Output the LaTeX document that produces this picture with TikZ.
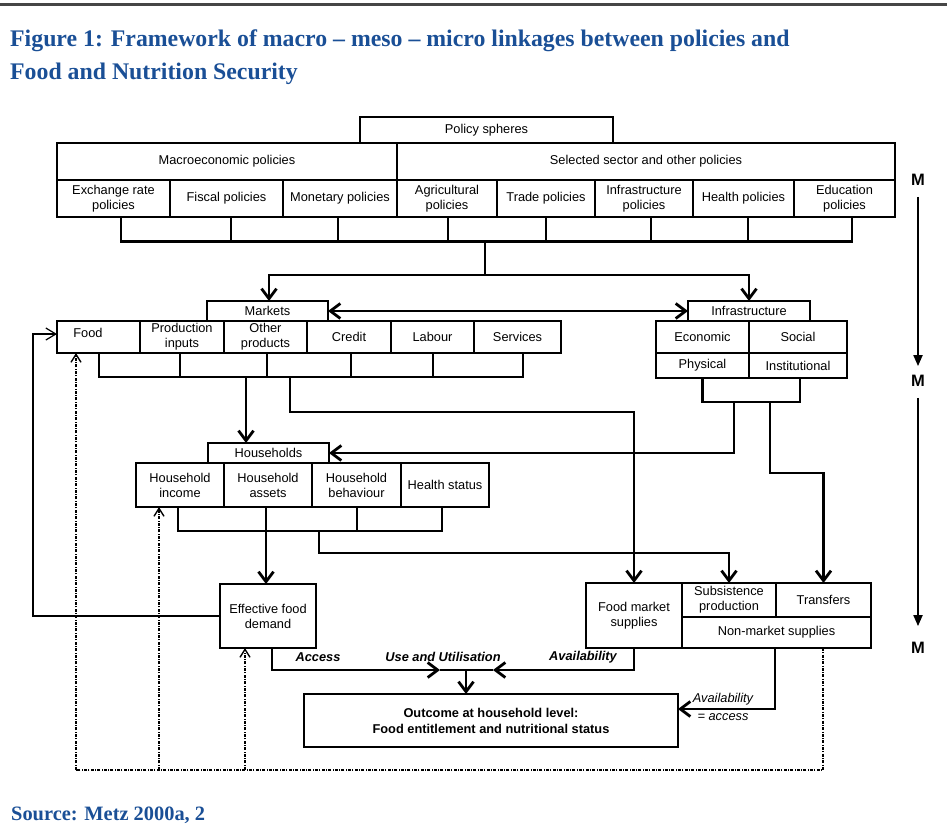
\documentclass[tikz,border=0pt]{standalone}
\usepackage{fontspec}
\setmainfont{Liberation Sans}
\newfontfamily\headfont{Liberation Serif}
\usetikzlibrary{arrows.meta}
\definecolor{headblue}{RGB}{26,79,150}
\definecolor{rulegrey}{RGB}{70,70,70}
\begin{document}
\begin{tikzpicture}[x=1pt,y=-1pt,
  cell/.style={draw,line width=1.7pt,inner sep=0pt,outer sep=0pt,align=center,
    font=\fontsize{12.8}{15}\selectfont},
  link/.style={line width=2.8pt},
  arr/.style={link,-{Straight Barb[length=10pt,width=15pt]}},
  dblarr/.style={link,{Straight Barb[length=10pt,width=15pt]}-{Straight Barb[length=10pt,width=15pt]}},
  thinarr/.style={line width=1.2pt,-{Straight Barb[length=10pt,width=12pt]}},
  dotline/.style={line width=1.4pt,dash pattern=on 3pt off 1.3pt on 1pt off 1.3pt},
  dotarr/.style={dotline,-{Straight Barb[length=8pt,width=10pt]}},
  mlab/.style={font=\fontsize{16.5}{16.5}\bfseries\selectfont,inner sep=0pt},
  marr/.style={line width=1.8pt,-{Triangle[length=11pt,width=9pt]}},
  flow/.style={font=\fontsize{12.8}{15}\selectfont\bfseries\itshape,inner sep=0pt},
  note/.style={font=\fontsize{12.8}{15}\selectfont\itshape,inner sep=0pt},
  headtext/.style={text=headblue,font=\headfont\bfseries\fontsize{23.8}{28}\selectfont,
    inner sep=0pt,anchor=base west},
]
\useasboundingbox (0,0) rectangle (947,829);

% heading and rule
\draw[rulegrey,line width=3pt] (0,5) -- (947,5);
\node[headtext] (title1) at (10,47) {Figure 1: Framework of macro – meso – micro linkages between policies and};
\node[headtext] (title2) at (10,80) {Food and Nutrition Security};
\node[headtext,font=\headfont\bfseries\fontsize{20.4}{24}\selectfont] (source) at (11,820) {Source: Metz 2000a, 2};

% policy spheres
\node[cell,minimum width=253pt,minimum height=26pt] (spheres) at (486.5,130) {Policy spheres};
\node[cell,minimum width=340pt,minimum height=37pt] (macro) at (227,161.5) {Macroeconomic policies};
\node[cell,minimum width=498pt,minimum height=37pt] (sector) at (646,161.5) {Selected sector and other policies};
\node[cell,minimum width=113pt,minimum height=37pt] (exr) at (113.5,198.5) {Exchange rate\\policies};
\node[cell,minimum width=113pt,minimum height=37pt] (fis) at (226.5,198.5) {Fiscal policies};
\node[cell,minimum width=114pt,minimum height=37pt] (mon) at (340,198.5) {Monetary policies};
\node[cell,minimum width=100pt,minimum height=37pt] (agr) at (447,198.5) {Agricultural\\policies};
\node[cell,minimum width=98pt,minimum height=37pt] (trd) at (546,198.5) {Trade policies};
\node[cell,minimum width=98pt,minimum height=37pt] (inf) at (644,198.5) {Infrastructure\\policies};
\node[cell,minimum width=101pt,minimum height=37pt] (hea) at (743.5,198.5) {Health policies};
\node[cell,minimum width=101pt,minimum height=37pt] (edu) at (844.5,198.5) {Education\\policies};

% markets
\node[cell,minimum width=121pt,minimum height=20pt] (markets) at (267.5,311) {Markets};
\node[cell,minimum width=83pt,minimum height=32pt] (food) at (98.5,337) {};
\node[font=\fontsize{12.8}{15}\selectfont,inner sep=0pt] (foodtxt) at (88,333) {Food};
\node[cell,minimum width=84pt,minimum height=32pt] (prod) at (182,337) {Production\\inputs};
\node[cell,minimum width=83pt,minimum height=32pt] (oth) at (265.5,337) {Other\\products};
\node[cell,minimum width=84pt,minimum height=32pt] (cred) at (349,337) {Credit};
\node[cell,minimum width=83pt,minimum height=32pt] (lab) at (432.5,337) {Labour};
\node[cell,minimum width=87pt,minimum height=32pt] (serv) at (517.5,337) {Services};

% infrastructure
\node[cell,minimum width=122pt,minimum height=20pt] (infra) at (749,311) {Infrastructure};
\node[cell,minimum width=93pt,minimum height=32pt] (econ) at (702.5,337) {Economic};
\node[cell,minimum width=98pt,minimum height=32pt] (soc) at (798,337) {Social};
\node[cell,minimum width=93pt,minimum height=25pt] (phys) at (702.5,365.5) {Physical};
\node[cell,minimum width=98pt,minimum height=25pt] (inst) at (798,365.5) {Institutional};

% households
\node[cell,minimum width=121pt,minimum height=20pt] (house) at (268.5,453) {Households};
\node[cell,minimum width=88pt,minimum height=44pt] (inc) at (180,485) {Household\\income};
\node[cell,minimum width=88pt,minimum height=44pt] (ast) at (268,485) {Household\\assets};
\node[cell,minimum width=89pt,minimum height=44pt] (beh) at (356.5,485) {Household\\behaviour};
\node[cell,minimum width=88pt,minimum height=44pt] (hst) at (445,485) {Health status};

% supplies, demand and outcome
\node[cell,minimum width=96pt,minimum height=64pt] (efd) at (268,616) {Effective food\\demand};
\node[cell,minimum width=96pt,minimum height=65pt] (fms) at (634,615.5) {Food market\\supplies};
\node[cell,minimum width=94pt,minimum height=34pt] (subs) at (729,600) {Subsistence\\production};
\node[cell,minimum width=95pt,minimum height=34pt] (trans) at (823.5,600) {Transfers};
\node[cell,minimum width=189pt,minimum height=31pt] (nonmkt) at (776.5,632.5) {Non-market supplies};
\node[cell,minimum width=374pt,minimum height=53pt,font=\fontsize{12.8}{16}\selectfont\bfseries] (outcome) at (491,720.5)
  {Outcome at household level:\\Food entitlement and nutritional status};

% policy bracket
\foreach \n/\dx [count=\i] in {exr/7.5,fis/4.5,mon/-2,agr/1,trd/0,inf/7,hea/4.5,edu/7.5}
  \coordinate (pb\i) at ([xshift=\dx pt,yshift=-24.5pt]\n.south);
\draw[link] (pb1 |- exr.south) -- (pb1) -- (pb8) -- (pb8 |- edu.south);
\foreach \n [count=\i from 2] in {fis,mon,agr,trd,inf,hea}
  \draw[link] (pb\i) -- (pb\i |- \n.south);
\coordinate (fork) at (485,275);
\draw[link] (fork) -- (fork |- pb1);
\draw[arr] (fork) -| ([xshift=1.5pt]markets.north);
\draw[arr] (fork) -| (infra.north);
\draw[dblarr] (markets.east) -- (infra.west);

% markets bracket
\foreach \n/\dx [count=\i] in {food/0.5,prod/-2,oth/1.5,cred/2,lab/0.5,serv/5.5}
  \coordinate (mb\i) at ([xshift=\dx pt,yshift=-24pt]\n.south);
\draw[link] (mb1 |- food.south) -- (mb1) -- (mb6) -- (mb6 |- serv.south);
\foreach \n [count=\i from 2] in {prod,oth,cred,lab}
  \draw[link] (mb\i) -- (mb\i |- \n.south);
\coordinate (mkA) at (246,377);
\coordinate (mkB) at (290,377);
\draw[arr] (mkA) -- (mkA |- house.north);
\draw[arr] (mkB) -- (290,412) -| (fms.north);

% infrastructure bracket
\coordinate (ib1) at ([yshift=-24pt]phys.south);
\coordinate (ib2) at ([xshift=2pt,yshift=-24pt]inst.south);
\draw[link] (ib1 |- phys.south) -- (ib1) -- (ib2) -- (ib2 |- inst.south);
\coordinate (ifA) at (734,402);
\coordinate (ifB) at (770,402);
\draw[arr] (ifA) |- (house.east);
\draw[arr] (ifB) -- (770,473) -| (trans.north);

% households bracket
\coordinate (hb1) at ([xshift=-2pt,yshift=-24pt]inc.south);
\coordinate (hb2) at ([xshift=0.5pt,yshift=-24pt]beh.south);
\coordinate (hb3) at ([xshift=-3pt,yshift=-24pt]hst.south);
\draw[link] (hb1 |- inc.south) -- (hb1) -- (hb3) -- (hb3 |- hst.south);
\draw[link] (hb2) -- (hb2 |- beh.south);
\draw[arr] ([xshift=-2pt]ast.south) -- ([xshift=-2pt]efd.north);
\coordinate (hhB) at (319,531);
\draw[arr] (hhB) -- (319,553) -| (subs.north);

% access, availability and use
\coordinate (J) at (466,670);
\draw[arr] ([xshift=4pt]efd.south) |- ([xshift=-26pt]J);
\draw[link] ([xshift=-26pt]J) -- (J);
\draw[arr] (fms.south) |- ([xshift=27pt]J);
\draw[link] ([xshift=27pt]J) -- (J);
\draw[arr] (J) -- (J |- outcome.north);
\draw[arr] ([xshift=-1.5pt]nonmkt.south) |- ([yshift=11.5pt]outcome.east);
\node[flow] (accl) at (318,657) {Access};
\node[flow] (usel) at (443,657) {Use and Utilisation};
\node[flow] (avl) at (583,657) {Availability};
\node[note] (aval1) at (723,699) {Availability};
\node[note] (aval2) at (723,717) {= access};

% feedback loops
\coordinate (dl) at (76,770);
\coordinate (dm) at (159,770);
\coordinate (dn) at (245,770);
\coordinate (dr) at (823,770);
\draw[dotline] (dr |- nonmkt.south) -- (dr) -- (dl);
\draw[dotarr] (dl) -- (dl |- food.south);
\draw[dotarr] (dm) -- (dm |- inc.south);
\draw[dotarr] (dn) -- (dn |- efd.south);
\coordinate (lt) at (33,334);
\draw[thinarr] (efd.west) -- (efd.west -| lt) -- (lt) -- (lt -| food.west);

% levels
\node[mlab] (m1) at (918,180) {M};
\node[mlab] (m2) at (918,381) {M};
\node[mlab] (m3) at (918,648) {M};
\draw[marr,shorten <=11pt,shorten >=9pt] (m1.south) -- (m2.north);
\draw[marr,shorten <=11pt,shorten >=16pt] (m2.south) -- (m3.north);
\end{tikzpicture}
\end{document}
